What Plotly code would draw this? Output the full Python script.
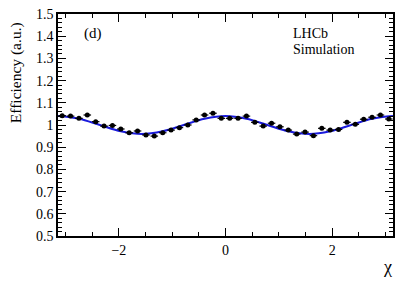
import numpy as np
import plotly.graph_objects as go

# 40 bins in chi from -pi to pi
n_bins = 40
efficiency = [1.042, 1.040, 1.030, 1.045, 1.015, 0.995, 0.998, 0.982, 0.965, 0.973,
              0.955, 0.950, 0.965, 0.977, 0.988, 1.000, 1.023, 1.045, 1.053, 1.030,
              1.030, 1.030, 1.040, 1.012, 0.995, 1.008, 0.992, 0.977, 0.959, 0.968,
              0.952, 0.985, 0.977, 0.980, 1.012, 1.003, 1.026, 1.035, 1.045, 1.027]
eff_err = [0.005] * n_bins

fit_chi_k = list(range(-8, 9))
fit_values = [1.040, 1.028, 1.000, 0.972, 0.960, 0.972, 1.000, 1.028, 1.040,
              1.028, 1.000, 0.972, 0.960, 0.972, 1.000, 1.028, 1.040]

edges = np.linspace(-np.pi, np.pi, n_bins + 1)
centers = 0.5 * (edges[:-1] + edges[1:])
half_w = 0.5 * (edges[1] - edges[0])
fit_x = [k * np.pi / 8 for k in fit_chi_k]

SERIF = "Liberation Serif, Times New Roman, serif"

fig = go.Figure()
fig.add_trace(go.Scatter(
    x=fit_x, y=fit_values, mode="lines", line=dict(color="#1a1adc", width=2, shape="spline", smoothing=1.0),
    hoverinfo="skip", showlegend=False))
fig.add_trace(go.Scatter(
    x=centers, y=efficiency, mode="markers",
    marker=dict(color="black", size=5),
    error_y=dict(type="data", array=eff_err, color="black", thickness=1.2, width=0),
    error_x=dict(type="constant", value=half_w * 0.9, color="black", thickness=1.2, width=0),
    showlegend=False))

tickfont = dict(family=SERIF, size=14, color="black")


def label(text, x, y, size, xanchor="center", angle=0):
    return dict(text=text, xref="paper", yref="paper", x=x, y=y, xanchor=xanchor, yanchor="middle",
                textangle=angle, showarrow=False, font=dict(family=SERIF, size=size, color="black"))


fig.update_layout(
    width=407, height=273,
    margin=dict(l=50, r=22, t=6, b=45),
    paper_bgcolor="white", plot_bgcolor="white",
    font=dict(family=SERIF, color="black"),
    xaxis=dict(range=[-np.pi, np.pi], tickmode="array", tickvals=[-2, 0, 2], automargin=False,
               ticklabeloverflow="allow",
               ticks="inside", ticklen=8, tickwidth=1, tickcolor="black",
               showline=True, linecolor="black", linewidth=1.5, mirror="allticks",
               showgrid=False, zeroline=False, tickfont=tickfont,
               minor=dict(tickmode="array", tickvals=[-3, -2.5, -1.5, -1, -0.5, 0.5, 1, 1.5, 2.5, 3],
                          ticks="inside", ticklen=4, tickcolor="black", showgrid=False)),
    yaxis=dict(range=[0.5, 1.5], tickmode="linear", tick0=0.5, dtick=0.1, automargin=False,
               ticklabeloverflow="allow",
               ticks="inside", ticklen=8, tickwidth=1, tickcolor="black",
               showline=True, linecolor="black", linewidth=1.5, mirror="allticks",
               showgrid=False, zeroline=False, tickfont=tickfont,
               minor=dict(dtick=0.02, ticks="inside", ticklen=4, tickcolor="black", showgrid=False)),
    annotations=[
        label("Efficiency (a.u.)", -0.125, 0.734, 15.5, angle=-90),
        label("χ", 0.985, -0.140, 18),
        label("(d)", 0.103, 0.914, 15),
        label("LHCb", 0.696, 0.910, 14, xanchor="left"),
        label("Simulation", 0.696, 0.842, 14, xanchor="left"),
    ],
)
fig.write_html("out.html")
